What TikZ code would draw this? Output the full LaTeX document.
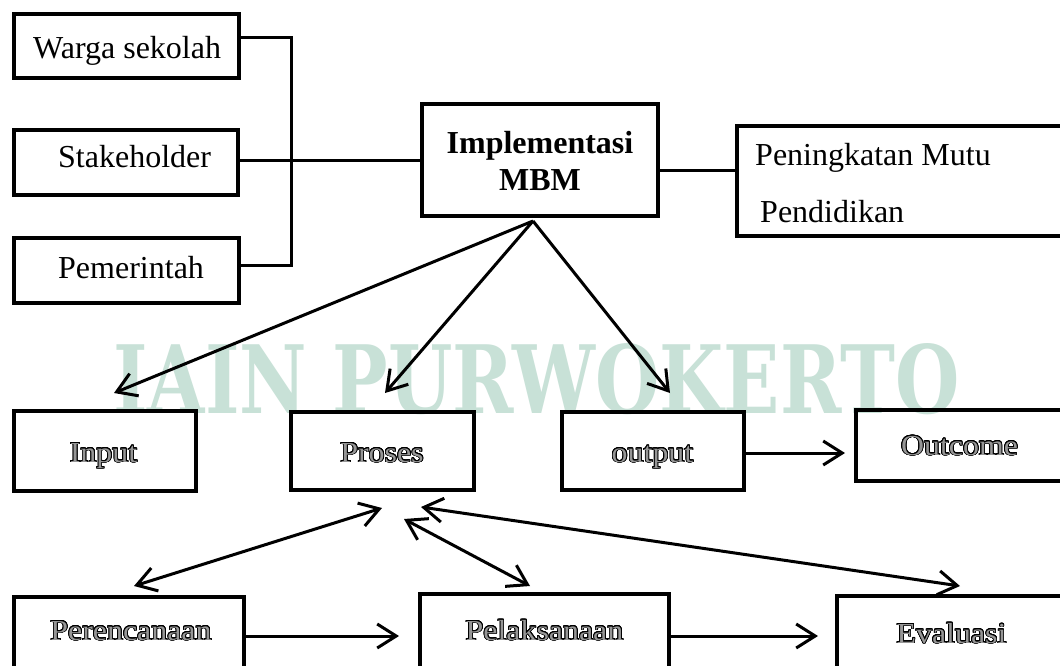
\documentclass[tikz,border=0pt]{standalone}
\usepackage{fontspec}
\setmainfont{Liberation Serif}
\newfontfamily\outfont[FakeStretch=1.1]{Liberation Serif}
\newfontfamily\wmfont{DejaVu Serif}
\usepackage{graphicx}
\usepackage[copies]{contour}
\contourlength{0.8pt}
\contournumber{24}
\usetikzlibrary{arrows.meta,calc}
\definecolor{wmcol}{RGB}{200,225,215}
\definecolor{olfill}{RGB}{150,150,150}
\newcommand{\olt}[1]{\contour{black}{\textcolor{olfill}{#1}}}
\begin{document}
\begin{tikzpicture}[x=1pt,y=-1pt,
  box/.style={draw, line width=4pt, rectangle, inner sep=0pt},
  conn/.style={line width=3pt},
  tipb/.tip={Straight Barb[length=19pt,width=24pt]},
  arr/.style={conn, -tipb},
  darr/.style={conn, tipb-tipb},
  txt/.style={inner sep=0pt, anchor=base west, font=\fontsize{32}{37}\selectfont},
  btxt/.style={inner sep=0pt, anchor=base, font=\fontsize{32}{37}\selectfont\bfseries},
  otxt/.style={inner sep=0pt, anchor=base, font=\outfont\fontsize{29}{33}\selectfont},
]
\useasboundingbox (0,0) rectangle (1060,665);
\clip (0,0) rectangle (1060,665);
\fill[white] (0,0) rectangle (1060,665);

% watermark
\node[inner sep=0pt, anchor=north west, text=wmcol] (wmk) at (113,343)
  {\resizebox{846pt}{70pt}{\wmfont\bfseries IAIN PURWOKERTO}};

% top-left boxes
\node[box, minimum width=225pt, minimum height=64pt] (warga) at (126.5,46) {};
\node[box, minimum width=224pt, minimum height=65pt] (stake) at (126,162.5) {};
\node[box, minimum width=225pt, minimum height=65pt] (pemer) at (126.5,270.5) {};
\node[txt] (twarga) at (33,58) {Warga sekolah};
\node[txt] (tstake) at (58,167) {Stakeholder};
\node[txt] (tpemer) at (58,278) {Pemerintah};

% central box
\node[box, minimum width=236pt, minimum height=112pt] (impl) at (540,160) {};
\node[btxt] (timpl1) at (540,153) {Implementasi};
\node[btxt] (timpl2) at (540,190) {MBM};

% right box
\node[box, minimum width=342pt, minimum height=110pt] (pening) at (908,181) {};
\node[txt] (tpen1) at (755,165) {Peningkatan Mutu};
\node[txt] (tpen2) at (760,222) {Pendidikan};

% middle row
\node[box, minimum width=182pt, minimum height=80pt] (input) at (105,451) {};
\node[box, minimum width=183pt, minimum height=78pt] (proses) at (382.5,451) {};
\node[box, minimum width=182pt, minimum height=78pt] (output) at (653,451) {};
\node[box, minimum width=224pt, minimum height=71pt] (outcome) at (968,445.5) {};
\node[otxt] (tinput) at (103.5,462) {\olt{Input}};
\node[otxt] (tproses) at (382,462) {\olt{Proses}};
\node[otxt] (toutput) at (652.5,462) {\olt{output}};
\node[otxt] (toutcome) at (959.5,455) {\olt{Outcome}};

% bottom row
\node[box, minimum width=230pt, minimum height=103pt] (perenc) at (129,648.5) {};
\node[box, minimum width=249pt, minimum height=106pt] (pelak) at (544.5,647) {};
\node[box, minimum width=243pt, minimum height=104pt] (evalu) at (958.5,648) {};
\node[otxt] (tperenc) at (131,640) {\olt{Perencanaan}};
\node[otxt] (tpelak) at (544.5,640) {\olt{Pelaksanaan}};
\node[otxt] (tevalu) at (951.5,643) {\olt{Evaluasi}};

% bracket connectors
\coordinate (bx) at (291,160);
\draw[conn] (warga.east |- 0,37) -| (bx) |- (pemer.east |- 0,265);
\draw[conn] (stake.east |- 0,160) -- (impl.west |- 0,160);
\draw[conn] (impl.east |- 0,170) -- (pening.west |- 0,170);

% arrows from Implementasi
\coordinate (apex) at (533,221);
\coordinate (tin) at (114,393);
\coordinate (tpr) at (385,393);
\coordinate (tout) at (670,393);
\draw[arr] (apex) -- (tin);
\draw[arr] (apex) -- (tpr);
\draw[arr] (apex) -- (tout);

% output -> outcome
\draw[arr, shorten >=9pt] (output.east |- 0,453) -- (outcome.west |- 0,453);

% bottom sequence
\draw[arr, shorten >=19pt] (perenc.east |- 0,636) -- (pelak.west |- 0,636);
\draw[arr, shorten >=17pt] (pelak.east |- 0,636) -- (evalu.west |- 0,636);

% double arrows around Proses
\coordinate (p1a) at (134,586);
\coordinate (p1b) at (382,508);
\coordinate (p2a) at (404,519);
\coordinate (p2b) at (530,586);
\coordinate (p3a) at (421,507);
\coordinate (p3b) at (960,586);
\draw[darr] (p1a) -- (p1b);
\draw[darr] (p2a) -- (p2b);
\draw[darr] (p3a) -- (p3b);
\end{tikzpicture}
\end{document}
